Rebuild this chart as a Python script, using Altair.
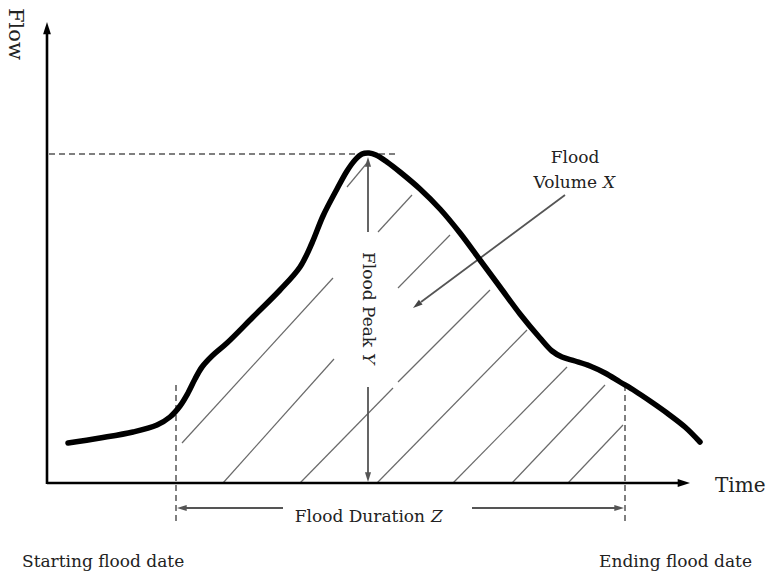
import altair as alt
import pandas as pd

# ---------------- data (time t, flow q) ----------------
curve_t = [21, 53, 86, 110, 123, 133, 141, 148, 155, 165, 180, 206, 233, 253, 265, 276, 290, 300,
           308, 315, 322, 329, 340, 353, 373, 393, 413, 433, 453, 473, 493, 505, 515, 528, 543,
           558, 573, 588, 603, 620, 638, 653]
curve_q = [40, 45, 51, 58, 66, 77, 90, 104, 116, 127, 140, 166, 193, 216, 240, 267, 294, 312,
           323, 329, 330, 328, 321, 311, 294, 274, 250, 223, 196, 169, 145, 132, 126, 122, 117,
           110, 101, 92, 82, 70, 56, 41]

# hatching segments of the flood volume
hatch_t1 = [135, 331, 176, 351, 253, 351, 330, 406, 465, 521, 300]
hatch_q1 = [40, 251, 0, 195, 0, 101, 0, 0, 0, 0, 296]
hatch_t2 = [286, 365, 287, 403, 346, 443, 480, 520, 558, 576, 320]
hatch_q2 = [205, 288, 124, 248, 95, 193, 153, 116, 98, 58, 320]

# dashed guide lines (peak level, start date, end date)
dash_t1 = [2, 129, 578]
dash_q1 = [329, 98, 98]
dash_t2 = [348, 129, 578]
dash_q2 = [329, -39, -39]

# annotation arrows (peak Y up, peak Y down, volume X, duration left, duration right)
arr_t1 = [321, 321, 518, 236, 425]
arr_q1 = [251, 96, 288, -25, -25]
arr_t2 = [321, 321, 374, 138, 569]
arr_q2 = [318, 9, 181, -25, -25]

# axes
axis_t1 = [0, 0]
axis_q1 = [-1, 0]
axis_t2 = [0, 634]
axis_q2 = [452, 0]

# arrowheads
tip_t = [0, 643, 321, 321, 366, 130, 577]
tip_q = [461, 0, 326, 1, 175, -25, -25]
tip_ang = [0, 90, 0, 180, 233, 270, 90]
tip_size = [420, 420, 260, 260, 260, 260, 260]
tip_col = ["#000000", "#000000", "#555555", "#555555", "#444444", "#555555", "#555555"]

# labels
lab_text = ["Flow", "Time", "Flood", "Volume", "X", "Flood Peak", "Y",
            "Flood Duration", "Z", "Starting flood date", "Ending flood date"]
lab_t = [-32, 668, 528, 550, 556, 321, 321, 378, 384, -25, 705]
lab_q = [475, -9, 320, 295, 295, 231, 130, -39, -39, -84, -84]
lab_style = ["vert_big", "big", "center", "right", "italic_left", "vert", "vert_italic",
             "right", "italic_left", "left", "right"]

X_DOM = [-47, 724]
Y_DOM = [-90, 483]
FONT = "DejaVu Serif"
TXT = "#222222"


def xe(f):
    return alt.X(f, type="quantitative", scale=alt.Scale(domain=X_DOM, nice=False, zero=False), axis=None)


def ye(f):
    return alt.Y(f, type="quantitative", scale=alt.Scale(domain=Y_DOM, nice=False, zero=False), axis=None)


def segs(t1, q1, t2, q2):
    return pd.DataFrame({"t1": t1, "q1": q1, "t2": t2, "q2": q2})


def rule_layer(df, **kw):
    return alt.Chart(df).mark_rule(**kw).encode(
        x=xe("t1"), y=ye("q1"), x2=alt.X2("t2"), y2=alt.Y2("q2"))


layers = []
layers.append(rule_layer(segs(hatch_t1, hatch_q1, hatch_t2, hatch_q2), color="#6a6a6a", strokeWidth=1.2))
layers.append(rule_layer(segs(dash_t1, dash_q1, dash_t2, dash_q2), color="#7f7f7f", strokeWidth=2,
                         strokeDash=[6, 4]))
layers.append(rule_layer(segs(arr_t1, arr_q1, arr_t2, arr_q2), color="#555555", strokeWidth=1.8))
layers.append(rule_layer(segs(axis_t1, axis_q1, axis_t2, axis_q2), color="#000000", strokeWidth=2.6))

curve_df = pd.DataFrame({"t": curve_t, "q": curve_q})
layers.append(alt.Chart(curve_df).mark_line(color="#000000", strokeWidth=5.5, interpolate="catmull-rom",
                                             strokeCap="round", strokeJoin="round").encode(
    x=xe("t"), y=ye("q"), order="t:Q"))

ARROW = "M0,0L0.38,1.2L-0.38,1.2Z"
tips = pd.DataFrame({"t": tip_t, "q": tip_q, "ang": tip_ang, "sz": tip_size, "col": tip_col})
layers.append(alt.Chart(tips).mark_point(filled=True, shape=ARROW, opacity=1, strokeWidth=0).encode(
    x=xe("t"), y=ye("q"),
    angle=alt.Angle("ang:Q", scale=None),
    size=alt.Size("sz:Q", scale=None, legend=None),
    color=alt.Color("col:N", scale=None, legend=None)))

labels = pd.DataFrame({"text": lab_text, "t": lab_t, "q": lab_q, "style": lab_style})

styles = {
    "vert_big": dict(angle=90, align="left", baseline="middle", fontSize=21),
    "big": dict(align="left", baseline="alphabetic", fontSize=20),
    "center": dict(align="center", baseline="alphabetic", fontSize=17),
    "right": dict(align="right", baseline="alphabetic", fontSize=17),
    "left": dict(align="left", baseline="alphabetic", fontSize=17),
    "italic_left": dict(align="left", baseline="alphabetic", fontSize=17, fontStyle="italic"),
    "vert": dict(angle=90, align="left", baseline="middle", fontSize=17),
    "vert_italic": dict(angle=90, align="left", baseline="middle", fontSize=17, fontStyle="italic"),
}
for name, props in styles.items():
    layers.append(alt.Chart(labels).transform_filter(alt.datum.style == name).mark_text(
        font=FONT, color=TXT, **props).encode(x=xe("t"), y=ye("q"), text="text:N"))

chart = alt.layer(*layers).properties(
    width=771, height=573, padding=0, autosize=alt.AutoSizeParams(type="none"),
    background="white"
).configure_view(strokeWidth=0)

chart.save("out.html", embed_options={"renderer": "svg", "actions": False})
